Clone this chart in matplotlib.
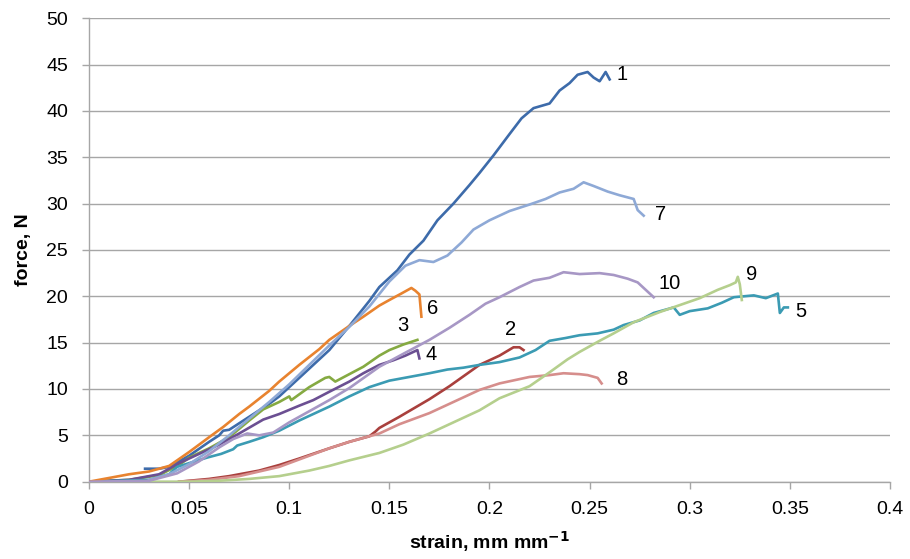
import matplotlib
matplotlib.use('Agg')
import matplotlib.pyplot as plt

plt.rcParams['font.family'] = ['Liberation Sans', 'DejaVu Sans']

# sample 1 (dark blue)
x1 = [0.028, 0.035, 0.040, 0.050, 0.060, 0.065, 0.067, 0.070, 0.080, 0.090, 0.095, 0.105, 0.115, 0.120,
      0.130, 0.140, 0.145, 0.154, 0.160, 0.167, 0.174, 0.182, 0.190, 0.195, 0.202, 0.210, 0.216, 0.222,
      0.230, 0.235, 0.240, 0.244, 0.249, 0.252, 0.255, 0.258, 0.260]
f1 = [1.4, 1.4, 1.6, 2.8, 4.3, 5.0, 5.5, 5.6, 7.0, 8.4, 9.2, 11.2, 13.2, 14.2,
      16.8, 19.5, 21.0, 22.8, 24.5, 26.0, 28.2, 30.0, 32.0, 33.3, 35.2, 37.5, 39.2, 40.3,
      40.8, 42.2, 43.0, 43.9, 44.2, 43.6, 43.2, 44.2, 43.4]

# sample 2 (dark red)
x2 = [0.045, 0.060, 0.070, 0.085, 0.095, 0.105, 0.120, 0.130, 0.140, 0.143, 0.145, 0.155, 0.170, 0.180,
      0.195, 0.205, 0.212, 0.215, 0.217]
f2 = [0.0, 0.3, 0.6, 1.2, 1.8, 2.5, 3.6, 4.3, 4.9, 5.4, 5.8, 7.0, 8.9, 10.3,
      12.6, 13.6, 14.5, 14.5, 14.2]

# sample 3 (green)
x3 = [0.000, 0.020, 0.035, 0.045, 0.050, 0.060, 0.070, 0.080, 0.087, 0.095, 0.100, 0.101, 0.110, 0.118,
      0.120, 0.123, 0.130, 0.137, 0.145, 0.150, 0.157, 0.164]
f3 = [0.0, 0.2, 0.7, 1.8, 2.6, 3.6, 4.8, 6.6, 7.8, 8.6, 9.2, 8.8, 10.2, 11.2,
      11.3, 10.8, 11.6, 12.4, 13.6, 14.2, 14.8, 15.3]

# sample 4 (purple)
x4 = [0.000, 0.020, 0.035, 0.045, 0.055, 0.065, 0.075, 0.087, 0.095, 0.105, 0.112, 0.120, 0.130, 0.137,
      0.145, 0.152, 0.158, 0.162, 0.164, 0.165]
f4 = [0.0, 0.2, 0.8, 2.0, 3.0, 4.0, 5.2, 6.7, 7.3, 8.2, 8.8, 9.7, 10.8, 11.7,
      12.6, 13.1, 13.6, 14.0, 14.2, 13.3]

# sample 5 (teal)
x5 = [0.000, 0.030, 0.040, 0.044, 0.050, 0.059, 0.066, 0.072, 0.074, 0.080, 0.087, 0.095, 0.105, 0.112,
      0.120, 0.130, 0.140, 0.150, 0.160, 0.170, 0.179, 0.187, 0.195, 0.205, 0.215, 0.223, 0.230, 0.238,
      0.245, 0.254, 0.262, 0.267, 0.275, 0.282, 0.292, 0.295, 0.300, 0.309, 0.316, 0.322, 0.332, 0.338,
      0.344, 0.345, 0.347, 0.349]
f5 = [0.0, 0.2, 0.8, 1.6, 2.0, 2.6, 3.0, 3.5, 3.9, 4.3, 4.8, 5.5, 6.6, 7.3,
      8.1, 9.2, 10.2, 10.9, 11.3, 11.7, 12.1, 12.3, 12.6, 12.9, 13.4, 14.2, 15.2, 15.5,
      15.8, 16.0, 16.4, 16.9, 17.4, 18.2, 18.8, 18.0, 18.4, 18.7, 19.3, 19.9, 20.1, 19.8,
      20.3, 18.2, 18.8, 18.8]

# sample 6 (orange)
x6 = [0.000, 0.010, 0.020, 0.030, 0.040, 0.050, 0.060, 0.067, 0.075, 0.080, 0.090, 0.095, 0.105, 0.115,
      0.120, 0.130, 0.137, 0.145, 0.150, 0.156, 0.161, 0.163, 0.165, 0.166]
f6 = [0.0, 0.4, 0.8, 1.1, 1.7, 3.2, 4.8, 5.9, 7.3, 8.1, 9.8, 10.8, 12.6, 14.3,
      15.3, 16.8, 17.8, 19.0, 19.6, 20.3, 20.9, 20.6, 20.2, 17.8]

# sample 7 (light blue)
x7 = [0.030, 0.040, 0.050, 0.060, 0.070, 0.080, 0.090, 0.100, 0.110, 0.120, 0.130, 0.140, 0.150, 0.158,
      0.165, 0.172, 0.179, 0.186, 0.192, 0.200, 0.210, 0.220, 0.228, 0.235, 0.242, 0.247, 0.252, 0.259,
      0.265, 0.272, 0.274, 0.277]
f7 = [0.2, 0.8, 1.9, 3.3, 5.0, 6.8, 8.6, 10.5, 12.6, 14.7, 16.7, 18.9, 21.6, 23.3,
      23.9, 23.7, 24.4, 25.8, 27.2, 28.2, 29.2, 29.9, 30.5, 31.2, 31.6, 32.3, 31.9, 31.3,
      30.9, 30.5, 29.3, 28.7]

# sample 8 (pink)
x8 = [0.045, 0.060, 0.075, 0.085, 0.095, 0.105, 0.120, 0.130, 0.140, 0.145, 0.155, 0.170, 0.182, 0.195,
      0.205, 0.220, 0.230, 0.237, 0.245, 0.249, 0.254, 0.256]
f8 = [0.0, 0.2, 0.6, 1.1, 1.6, 2.4, 3.6, 4.3, 4.9, 5.2, 6.2, 7.4, 8.6, 9.9,
      10.6, 11.3, 11.5, 11.7, 11.6, 11.5, 11.2, 10.6]

# sample 9 (light green)
x9 = [0.030, 0.050, 0.065, 0.080, 0.095, 0.110, 0.120, 0.130, 0.145, 0.157, 0.170, 0.182, 0.195, 0.205,
      0.220, 0.230, 0.239, 0.245, 0.255, 0.262, 0.272, 0.285, 0.297, 0.305, 0.314, 0.320, 0.323, 0.324,
      0.325, 0.326]
f9 = [0.0, 0.0, 0.1, 0.3, 0.6, 1.2, 1.7, 2.3, 3.1, 4.0, 5.2, 6.4, 7.7, 9.0,
      10.3, 11.8, 13.2, 14.0, 15.2, 16.0, 17.2, 18.3, 19.2, 19.8, 20.7, 21.2, 21.5, 22.1,
      21.3, 19.6]

# sample 10 (light purple)
x10 = [0.000, 0.030, 0.044, 0.055, 0.065, 0.072, 0.079, 0.085, 0.092, 0.100, 0.110, 0.120, 0.130, 0.145,
       0.157, 0.170, 0.180, 0.190, 0.198, 0.205, 0.215, 0.222, 0.230, 0.237, 0.245, 0.255, 0.262, 0.269,
       0.274, 0.277, 0.282]
f10 = [0.0, 0.1, 0.9, 2.2, 3.7, 4.6, 5.2, 5.0, 5.3, 6.4, 7.6, 8.8, 10.1, 12.4,
       13.8, 15.3, 16.6, 18.0, 19.2, 19.9, 21.0, 21.7, 22.0, 22.6, 22.4, 22.5, 22.3, 21.9,
       21.5, 20.9, 19.9]

series = [
    ("1", x1, f1, "#3D6BAA", (0.2636, 43.9)),
    ("2", x2, f2, "#A9403D", (0.2075, 16.4)),
    ("3", x3, f3, "#85AA42", (0.1540, 16.8)),
    ("4", x4, f4, "#6B4F92", (0.1680, 13.7)),
    ("5", x5, f5, "#3B9BB3", (0.3525, 18.4)),
    ("6", x6, f6, "#E8832F", (0.1690, 18.7)),
    ("7", x7, f7, "#8EA9D6", (0.2825, 28.8)),
    ("8", x8, f8, "#D68E8C", (0.2630, 11.0)),
    ("9", x9, f9, "#B5CF8D", (0.3280, 22.3)),
    ("10", x10, f10, "#A797C5", (0.2845, 21.4)),
]

fig = plt.figure(figsize=(9.1, 5.59), dpi=100)
ax = fig.add_axes([0.0978, 0.1383, 0.8802, 0.8291])

for name, xs, fs, col, pos in series:
    ax.plot(xs, fs, color=col, linewidth=1.9, zorder=3)
    ax.text(pos[0], pos[1], name, fontsize=14.5, ha='left', va='center', color='black')

ax.set_xlim(0, 0.4)
ax.set_ylim(0, 50)
ax.set_xticks([0, 0.05, 0.1, 0.15, 0.2, 0.25, 0.3, 0.35, 0.4])
ax.set_xticklabels(["0", "0.05", "0.1", "0.15", "0.2", "0.25", "0.3", "0.35", "0.4"])
ax.set_yticks(range(0, 51, 5))
ax.grid(axis='y', color='#A6A6A6', linewidth=1.0, zorder=0)
ax.set_axisbelow(True)
for s in ['top', 'right']:
    ax.spines[s].set_visible(False)
for s in ['left', 'bottom']:
    ax.spines[s].set_color('#A6A6A6')
    ax.spines[s].set_linewidth(1.0)
ax.tick_params(axis='both', colors='#A6A6A6', labelcolor='black', labelsize=14, length=5, width=1.0)
ax.tick_params(axis='x', pad=9)
ax.tick_params(axis='y', pad=10)

ax.set_xlabel("strain, mm mm$^{\\mathbf{-1}}$", fontsize=14, fontweight='bold', labelpad=8)
ax.set_ylabel("force, N", fontsize=14, fontweight='bold', labelpad=10)

fig.savefig("out.png", dpi=100)
